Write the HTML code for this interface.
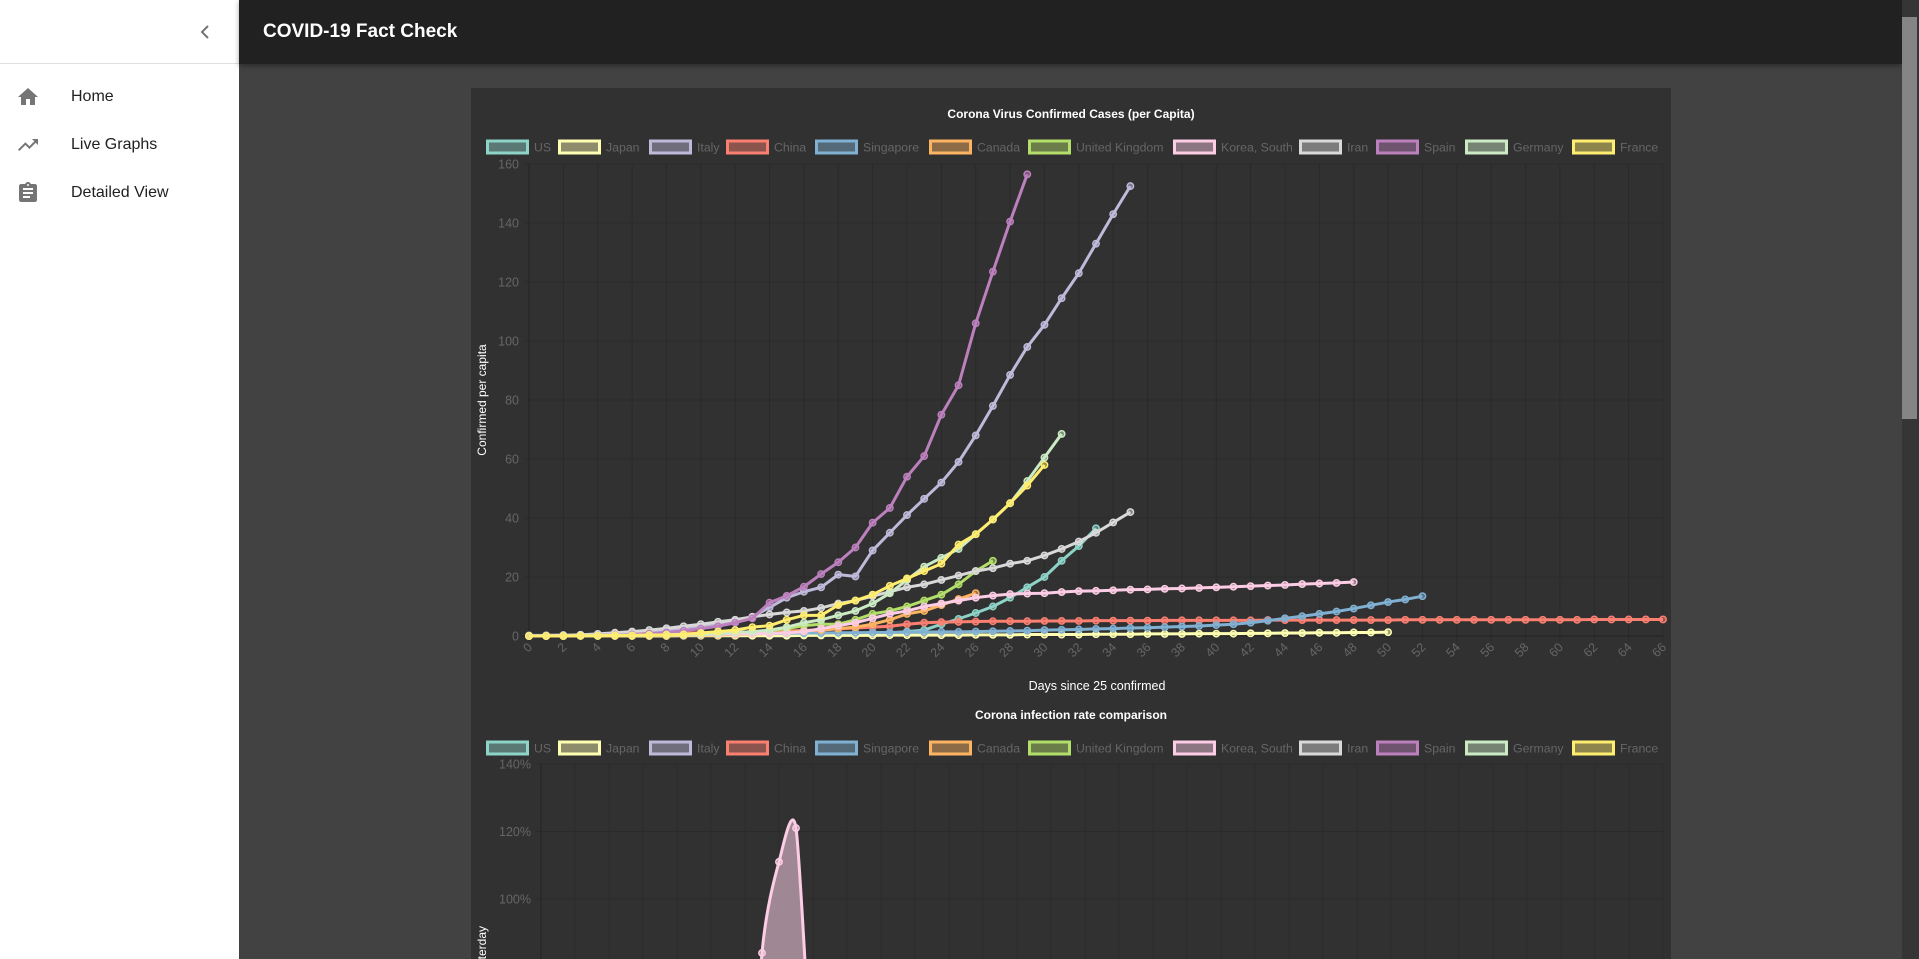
<!DOCTYPE html>
<html><head><meta charset="utf-8">
<style>
html,body{margin:0;padding:0;width:1919px;height:959px;overflow:hidden;background:#424242;font-family:"Liberation Sans",sans-serif;}
#sidebar{position:absolute;left:0;top:0;width:239px;height:959px;background:#fff;}
#sidebar .top{height:63px;border-bottom:1px solid #e0e0e0;position:relative;}
.nav{position:absolute;left:0;width:239px;height:46px;}
.nav span{position:absolute;left:71px;top:50%;transform:translateY(-50%);font-size:16px;color:#212121;}
.nav svg{position:absolute;left:16px;top:50%;transform:translateY(-50%);}
#header{position:absolute;left:239px;top:0;width:1663px;height:64px;background:#212121;box-shadow:0 2px 5px rgba(0,0,0,.35);}
#header span{position:absolute;left:24px;top:21px;font-size:19px;font-weight:bold;color:#fff;}
#card{position:absolute;left:471px;top:88px;width:1200px;height:871px;background:#313131;}
#scroll{position:absolute;left:1902px;top:0;width:17px;height:959px;background:#353535;}
#thumb{position:absolute;left:1902px;top:17px;width:15px;height:402px;background:#858585;}
#svg{position:absolute;left:0;top:0;}
</style></head><body>
<div id="sidebar">
  <div class="top">
    <svg style="position:absolute;left:198px;top:24px" width="14" height="16"><path d="M10 2 L4 8 L10 14" stroke="#757575" stroke-width="2" fill="none"/></svg>
  </div>
  <div class="nav" style="top:74px">
    <svg width="24" height="24"><path d="M10 20v-6h4v6h5v-8h3L12 3 2 12h3v8z" fill="#757575"/></svg><span>Home</span></div>
  <div class="nav" style="top:122px">
    <svg width="24" height="24"><path d="M16 6l2.3 2.3-4.9 4.9-4-4L2 16.6 3.4 18l6-6 4 4 6.3-6.3L22 12V6z" fill="#757575"/></svg><span>Live Graphs</span></div>
  <div class="nav" style="top:170px">
    <svg width="24" height="24"><path d="M19 3h-4.2C14.4 1.8 13.3 1 12 1s-2.4.8-2.8 2H5c-1.1 0-2 .9-2 2v14c0 1.1.9 2 2 2h14c1.1 0 2-.9 2-2V5c0-1.1-.9-2-2-2zm-7 0c.6 0 1 .4 1 1s-.4 1-1 1-1-.4-1-1 .4-1 1-1zm2 14H7v-2h7v2zm3-4H7v-2h10v2zm0-4H7V7h10v2z" fill="#757575"/></svg><span>Detailed View</span></div>
</div>
<div id="header"><span>COVID-19 Fact Check</span></div>
<div id="card"></div>
<div id="scroll"></div>
<div id="thumb"></div>
<svg id="svg" width="1919" height="959"></svg>
<script>
const countries = ["US","Japan","Italy","China","Singapore","Canada","United Kingdom","Korea, South","Iran","Spain","Germany","France"];
const colors = ["#8dd3c7","#ffffb3","#bebada","#fb8072","#80b1d3","#fdb462","#b3de69","#fccde5","#d9d9d9","#bc80bd","#ccebc5","#ffed6f"];
const usVals = [0,0,0,0.1,0.1,0.1,0.1,0.2,0.2,0.2,0.3,0.3,0.3,0.4,0.4,0.5,0.5,0.6,0.7,0.8,0.9,1,1.5,2,4,5.8,7.8,10,13,16.5,20,25.5,30.5,36.5];
const japanVals = [0,0,0,0,0,0,0,0,0,0.1,0.1,0.1,0.1,0.1,0.1,0.1,0.2,0.2,0.2,0.2,0.2,0.3,0.3,0.3,0.3,0.3,0.4,0.4,0.4,0.5,0.5,0.5,0.5,0.6,0.6,0.6,0.7,0.7,0.7,0.8,0.8,0.8,0.9,0.9,1,1,1.1,1.1,1.2,1.2,1.3];
const italyVals = [0.1,0.2,0.3,0.4,0.5,0.7,1,1.3,2,2.5,3.2,4,5,6.5,9.7,13,15,16.5,20.8,20.2,29,35,41,46.5,52,59,68,78,88.5,98,105.5,114.5,123,133,143,152.5];
const chinaVals = [0.1,0.2,0.3,0.4,0.5,0.6,0.7,0.8,0.9,1,1.1,1.2,1.3,1.4,1.5,1.7,1.9,2.1,2.4,2.7,3,3.3,4,4.5,4.7,4.8,4.9,5,5,5,5.1,5.1,5.1,5.2,5.2,5.2,5.2,5.3,5.3,5.3,5.3,5.3,5.3,5.4,5.4,5.4,5.4,5.4,5.4,5.4,5.4,5.5,5.5,5.5,5.5,5.5,5.5,5.5,5.5,5.5,5.5,5.5,5.6,5.6,5.6,5.6,5.6];
const singaporeVals = [0.2,0.2,0.3,0.3,0.4,0.4,0.5,0.5,0.6,0.6,0.7,0.7,0.8,0.8,0.9,0.9,1,1,1.1,1.1,1.2,1.2,1.3,1.3,1.4,1.4,1.5,1.6,1.7,1.8,2,2.1,2.2,2.4,2.5,2.7,2.8,3,3.2,3.4,3.7,4,4.5,5.2,6,6.7,7.5,8.3,9.3,10.4,11.5,12.4,13.5];
const canadaVals = [0,0,0,0.1,0.1,0.1,0.1,0.2,0.2,0.3,0.3,0.4,0.5,0.7,0.9,1.2,1.8,2,2.5,3,4,5.5,7.5,8.5,10.5,12.5,14.5];
const ukVals = [0,0,0.1,0.1,0.1,0.2,0.2,0.3,0.3,0.4,0.5,0.7,0.9,1.3,1.8,2.5,3.5,4,4,5.5,7.5,8.5,10,12,14,17.5,22,25.5];
const koreaVals = [0,0,0.1,0.1,0.2,0.2,0.3,0.3,0.4,0.4,0.5,0.6,0.7,0.8,0.9,1,1.5,2.5,3.5,4.5,6,7.5,8.5,10,11,12,13,13.7,14.2,14.4,14.5,14.9,15.2,15.3,15.5,15.7,15.8,16,16.1,16.3,16.5,16.7,16.9,17.1,17.3,17.6,17.8,18,18.3];
const iranVals = [0,0.1,0.2,0.4,0.7,1.1,1.5,2,2.6,3.3,4,4.8,5.5,6.5,7.3,8,8.5,9.5,11,12,13.5,15,16.5,17.5,19,20.5,22,23,24.5,25.5,27.3,29.5,32,35,38.5,42];
const spainVals = [0,0,0,0.1,0.2,0.3,0.5,0.8,1.2,1.8,2.5,3.3,4.5,6,11.3,13.6,16.7,21,25,30,38.4,43.4,54,61,75,85,106,123.5,140.5,156.5];
const germanyVals = [0,0,0,0.1,0.1,0.2,0.2,0.3,0.4,0.5,0.6,0.8,1.2,1.5,2,3,4.5,5.5,7,8.5,11,14.5,19,23.5,26.5,29.5,34.5,39.5,45,52.5,60.5,68.5];
const franceVals = [0,0,0,0.1,0.1,0.2,0.2,0.3,0.4,0.5,1,1.5,2,3,3.5,5.5,7,7,10.5,12,14,17,19.5,22,24.5,31,34.5,39.5,45,51,58];
const series1 = [usVals,japanVals,italyVals,chinaVals,singaporeVals,canadaVals,ukVals,koreaVals,iranVals,spainVals,germanyVals,franceVals];
const yTicks1 = [0,20,40,60,80,100,120,140,160];
const xTicks = [0,2,4,6,8,10,12,14,16,18,20,22,24,26,28,30,32,34,36,38,40,42,44,46,48,50,52,54,56,58,60,62,64,66];
const koreaRate = [0,0,0,0,0,0,0,0,0,0,0,0,0,84,111,121,45,30,25,20,15,12,10];
const yTicks2 = [0,20,40,60,80,100,120,140];

const NS="http://www.w3.org/2000/svg";
const svg=document.getElementById('svg');
function mk(tag,attrs,parent,text){const e=document.createElementNS(NS,tag);for(const k in attrs)e.setAttribute(k,attrs[k]);if(text!==undefined)e.textContent=text;(parent||svg).appendChild(e);return e;}
function hexA(h,a){const r=parseInt(h.substr(1,2),16),g=parseInt(h.substr(3,2),16),b=parseInt(h.substr(5,2),16);return `rgba(${r},${g},${b},${a})`;}
const legendX=[486,558,649,726,815,929,1028,1173,1299,1376,1465,1572];

function legend(y,gp){
  countries.forEach((c,i)=>{
    const g=mk('g',{},gp);
    
    
    mk('rect',{x:legendX[i]+1.5,y:y-6,width:40,height:12,fill:hexA(colors[i],0.45),stroke:colors[i],'stroke-width':3},g);
    mk('text',{x:legendX[i]+48,y:y+4.5,'font-size':12.3,fill:'#666'},g,c);
  });
}

// ---- chart 1 ----
const c1={L:529,R:1663,T:164,B:636,xmax:66,ymax:160};
const x1=d=>c1.L+d*(c1.R-c1.L)/c1.xmax;
const y1=v=>c1.B-v*(c1.B-c1.T)/c1.ymax;
const g1=mk('g',{});


const t1=mk('text',{x:1071,y:118,'font-size':12,'font-weight':'bold',fill:'#fff','text-anchor':'middle'},g1,'Corona Virus Confirmed Cases (per Capita)');


legend(147,g1);
xTicks.forEach(d=>{mk('line',{x1:x1(d),x2:x1(d),y1:c1.T,y2:c1.B+5,stroke:'#2a2a2a','stroke-width':1},g1);});
yTicks1.forEach(v=>{
  mk('line',{x1:c1.L-5,x2:c1.R,y1:y1(v),y2:y1(v),stroke:v===0?'#222':'#2a2a2a','stroke-width':1},g1);
  const t=mk('text',{x:c1.L-10,y:y1(v)+4.5,'font-size':12.5,fill:'#666','text-anchor':'end'},g1,String(v));
  
  
});
mk('line',{x1:c1.L,x2:c1.L,y1:c1.T,y2:c1.B,stroke:'#222'},g1);
xTicks.forEach(d=>{
  const t=mk('text',{'font-size':12.5,fill:'#666','text-anchor':'end',transform:`translate(${x1(d)+4},${c1.B+12}) rotate(-45)`},g1,String(d));
  
  
});
const xt=mk('text',{x:1097,y:690,'font-size':12.5,fill:'#fff','text-anchor':'middle'},g1,'Days since 25 confirmed');


const yt=mk('text',{'font-size':12,fill:'#fff','text-anchor':'middle',transform:'translate(486,400) rotate(-90)'},g1,'Confirmed per capita');


series1.forEach((vals,i)=>{
  const g=mk('g',{},g1);
  
  
  const pts=vals.map((v,d)=>x1(d)+','+y1(v)).join(' ');
  mk('polyline',{points:pts,fill:'none',stroke:colors[i],'stroke-width':3,'stroke-linejoin':'round'},g);
  vals.forEach((v,d)=>{
    const p=mk('circle',{cx:x1(d),cy:y1(v),r:3.2,fill:hexA(colors[i],0.5),stroke:colors[i],'stroke-width':1.5},g);
    
    
  });
});

// ---- chart 2 ----
const c2={L:541,R:1663,T:764,xmax:66,ymax:140,pxPer:67.5/20};
const x2=d=>c2.L+d*(c2.R-c2.L)/c2.xmax;
const y2=v=>c2.T+(c2.ymax-v)*c2.pxPer;
const g2=mk('g',{});


const t2=mk('text',{x:1071,y:719,'font-size':12,'font-weight':'bold',fill:'#fff','text-anchor':'middle'},g2,'Corona infection rate comparison');


legend(748,g2);
xTicks.forEach(d=>{mk('line',{x1:x2(d),x2:x2(d),y1:c2.T,y2:959,stroke:'#2a2a2a','stroke-width':1},g2);});
yTicks2.forEach(v=>{
  if(y2(v)>959) return;
  mk('line',{x1:c2.L-5,x2:c2.R,y1:y2(v),y2:y2(v),stroke:'#2a2a2a','stroke-width':1},g2);
  const t=mk('text',{x:c2.L-10,y:y2(v)+4.5,'font-size':12.5,fill:'#666','text-anchor':'end'},g2,v+'%');
  
  
});
mk('line',{x1:c2.L,x2:c2.L,y1:c2.T,y2:959,stroke:'#222'},g2);
const yt2=mk('text',{'font-size':12,fill:'#fff','text-anchor':'end',transform:'translate(486,926) rotate(-90)'},g2,'Percent increase since yesterday');


const clip=mk('clipPath',{id:'c2clip'});
mk('rect',{x:c2.L,y:c2.T-10,width:c2.R-c2.L,height:959-(c2.T-10)},clip);
const kp=koreaRate.map((v,d)=>[x2(d),y2(v)]);
let dpath='M'+kp[0][0]+','+kp[0][1];
for(let i=0;i<kp.length-1;i++){
  const p0=kp[Math.max(0,i-1)],p1=kp[i],p2=kp[i+1],p3=kp[Math.min(kp.length-1,i+2)];
  const t=0.12;
  dpath+=` C${p1[0]+(p2[0]-p0[0])*t},${p1[1]+(p2[1]-p0[1])*t} ${p2[0]-(p3[0]-p1[0])*t},${p2[1]-(p3[1]-p1[1])*t} ${p2[0]},${p2[1]}`;
}
const kg=mk('g',{'clip-path':'url(#c2clip)'},g2);


mk('path',{d:dpath+` L${kp[kp.length-1][0]},${y2(0)} L${kp[0][0]},${y2(0)} Z`,fill:'rgba(252,205,229,0.55)',stroke:'none'},kg);
mk('path',{d:dpath,fill:'none',stroke:colors[7],'stroke-width':3},kg);
koreaRate.forEach((v,d)=>{
  const p=mk('circle',{cx:x2(d),cy:y2(v),r:3.2,fill:hexA(colors[7],0.5),stroke:colors[7],'stroke-width':1.5},kg);
  
  
});
</script>
</body></html>
